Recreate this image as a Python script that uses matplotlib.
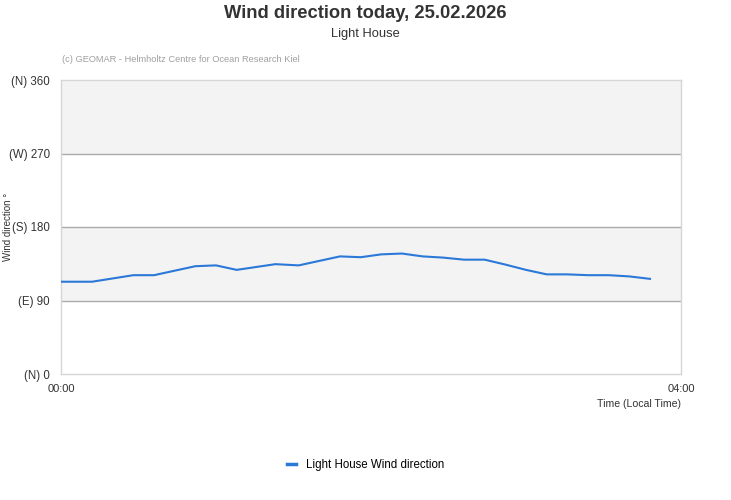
import numpy as np
import matplotlib
matplotlib.use("Agg")
import matplotlib.pyplot as plt

plt.rcParams['font.family'] = ['Liberation Sans', 'DejaVu Sans']

# minutes after 00:00 and wind direction in degrees
minutes = [0, 12, 28, 36, 52, 60, 68, 83, 92, 108, 116, 124, 132, 140,
           148, 156, 164, 172, 180, 188, 196, 204, 212, 220, 228]
direction = [113, 113, 121, 121, 132, 133, 127.5, 134.5, 133, 144, 143, 146.5, 147.5, 144,
             142.5, 140, 140, 134, 127.5, 122, 122, 121, 121, 119.5, 116.5]

y_ticks = [0, 90, 180, 270, 360]
y_labels = ["(N) 0", "(E) 90", "(S) 180", "(W) 270", "(N) 360"]
x_ticks = [0, 240]
x_labels = ["00:00", "04:00"]

fig = plt.figure(figsize=(7.31, 5.0), dpi=100)
ax = fig.add_axes([61 / 731, 126 / 500, 620 / 731, 294 / 500])

# alternating bands
for lo, hi, col in [(0, 90, "white"), (90, 180, "#f3f3f3"),
                    (180, 270, "white"), (270, 360, "#f3f3f3")]:
    ax.axhspan(lo, hi, color=col, lw=0, zorder=0)
for g in [90, 180, 270]:
    ax.axhline(g, color="#ababab", lw=1, zorder=1)

ax.plot(minutes, direction, color="#2a78d8", lw=1.5, zorder=3,
        label="Light House Wind direction")

ax.set_xlim(0, 240)
ax.set_ylim(0, 360)
ax.set_yticks(y_ticks)
ax.set_yticklabels(y_labels, fontsize=8.3, color="#333333")
ax.set_xticks(x_ticks)
ax.set_xticklabels(x_labels, fontsize=8, color="#333333")
ax.tick_params(length=0, pad=8)
ax.tick_params(axis='x', pad=7)
for s in ax.spines.values():
    s.set_color("#d6d6d6")
    s.set_linewidth(1)

fig.text(8 / 731, 1 - 227 / 500, "Wind direction °", rotation=90, ha="center", va="center",
         fontsize=7, color="#333333")
fig.text(681 / 731, 1 - 404 / 500, "Time (Local Time)", ha="right", va="center",
         fontsize=7.6, color="#333333")

fig.text(0.5, 1 - 13 / 500, "Wind direction today, 25.02.2026", ha="center", va="center",
         fontsize=13.2, fontweight="bold", color="#333333")
fig.text(0.5, 1 - 34 / 500, "Light House", ha="center", va="center",
         fontsize=9.3, color="#333333")
fig.text(62 / 731, 1 - 60 / 500, "(c) GEOMAR - Helmholtz Centre for Ocean Research Kiel",
         ha="left", va="center", fontsize=6.7, color="#a0a0a0")

fig.legend(loc="center", bbox_to_anchor=(0.5, 1 - 465 / 500), frameon=False,
           fontsize=8.3, handlelength=0.8, handletextpad=0.8)
leg = fig.legends[0]
for line in leg.get_lines():
    line.set_linewidth(2.5)

fig.savefig("out.png", dpi=100)
